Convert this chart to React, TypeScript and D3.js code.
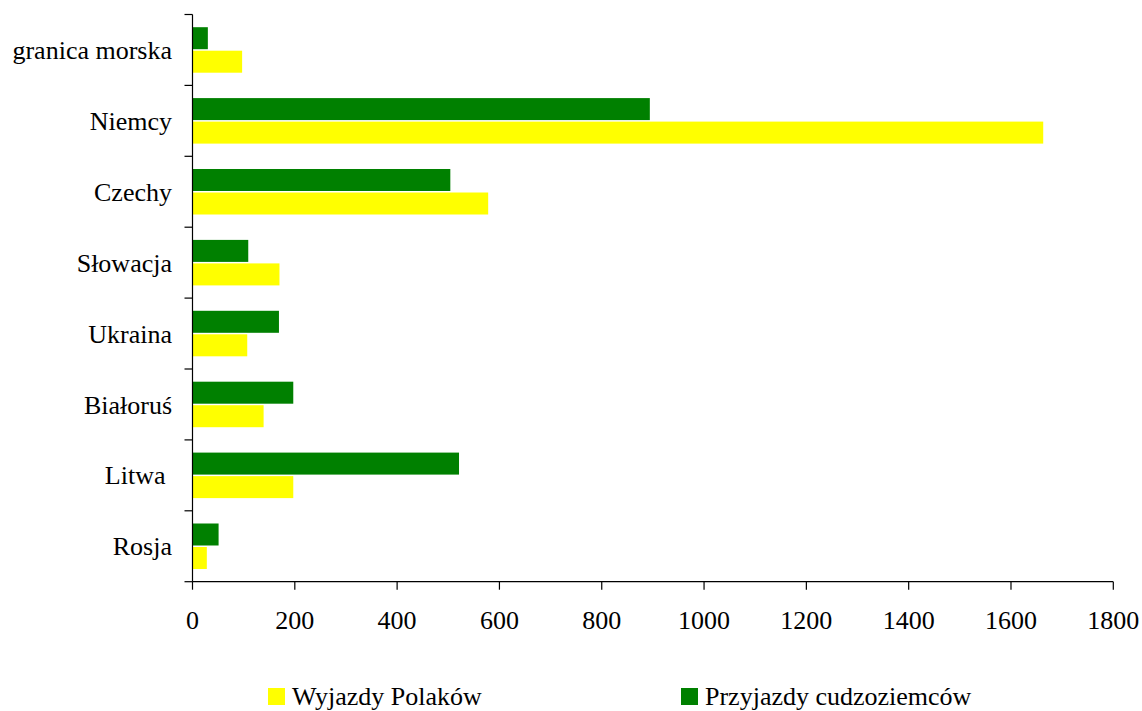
import React from 'react';
import * as d3 from 'd3';

// Categories top to bottom
const categories = ['granica morska', 'Niemcy', 'Czechy', 'Słowacja', 'Ukraina', 'Białoruś', 'Litwa\u00a0', 'Rosja'];
// Values
const wyjazdyPolakow = [97, 1663, 578, 170, 107, 139, 197, 28];
const przyjazdyCudzoziemcow = [30, 894, 504, 109, 169, 197, 521, 51];
const xTicks = [0, 200, 400, 600, 800, 1000, 1200, 1400, 1600, 1800];

const series = [
    { key: 'przyjazdy', label: 'Przyjazdy cudzoziemców', values: przyjazdyCudzoziemcow, color: '#008000' },
    { key: 'wyjazdy', label: 'Wyjazdy Polaków', values: wyjazdyPolakow, color: '#FFFF00' },
];

const textStyle: React.CSSProperties = { fontFamily: "'Liberation Serif', 'Times New Roman', Times, serif", fontSize: '26px' };

const App = () => {
    const width = 1142;
    const height = 711;
    const plot = { left: 192.5, right: 1113.3, top: 14.5, bottom: 581.7 };

    const x = d3.scaleLinear().domain([0, 1800]).range([plot.left, plot.right]);
    const y = d3.scaleBand<string>().domain(categories).range([plot.top, plot.bottom]).padding(0);
    const inner = d3.scaleBand<string>()
        .domain(series.map(s => s.key))
        .range([0, y.bandwidth()])
        .paddingInner(0.064)
        .paddingOuter(0.54);

    // band boundaries for the category ticks
    const boundaries = categories.map(c => y(c) as number).concat([plot.bottom]);

    // legend order: yellow first, then green
    const legend = [
        { ...series[1], x: 268 },
        { ...series[0], x: 681 },
    ];

    return (
        <svg width={width} height={height} style={{ position: 'absolute', left: 0, top: 0, background: '#fff' }}>
            <rect x={0} y={0} width={width} height={height} fill="#fff" />

            {/* Bars */}
            {categories.map((c, i) => (
                <g key={c} transform={`translate(0,${y(c)})`}>
                    {series.map(s => (
                        <rect
                            key={s.key}
                            x={x(0)}
                            y={inner(s.key)}
                            width={x(s.values[i]) - x(0)}
                            height={inner.bandwidth()}
                            fill={s.color}
                        />
                    ))}
                </g>
            ))}

            {/* Y axis */}
            <line x1={plot.left} x2={plot.left} y1={plot.top} y2={plot.bottom} stroke="#000" strokeWidth={1.2} />
            {boundaries.map((b, i) => (
                <line key={i} x1={plot.left - 8} x2={plot.left} y1={b} y2={b} stroke="#000" strokeWidth={1.2} />
            ))}
            {categories.map(c => (
                <text
                    key={c}
                    x={172}
                    y={(y(c) as number) + y.bandwidth() / 2}
                    dy="0.35em"
                    textAnchor="end"
                    style={textStyle}
                    fill="#000"
                >
                    {c}
                </text>
            ))}

            {/* X axis */}
            <line x1={plot.left} x2={plot.right} y1={plot.bottom} y2={plot.bottom} stroke="#000" strokeWidth={1.2} />
            {xTicks.map(t => (
                <g key={t} transform={`translate(${x(t)},0)`}>
                    <line y1={plot.bottom} y2={plot.bottom + 8} stroke="#000" strokeWidth={1.2} />
                    <text y={629} textAnchor="middle" style={textStyle} fill="#000">{t}</text>
                </g>
            ))}

            {/* Legend */}
            {legend.map(l => (
                <g key={l.key}>
                    <rect x={l.x} y={688} width={17} height={17} fill={l.color} />
                    <text x={l.x + 24} y={705} style={textStyle} fill="#000">{l.label}</text>
                </g>
            ))}
        </svg>
    );
};

export default App;
